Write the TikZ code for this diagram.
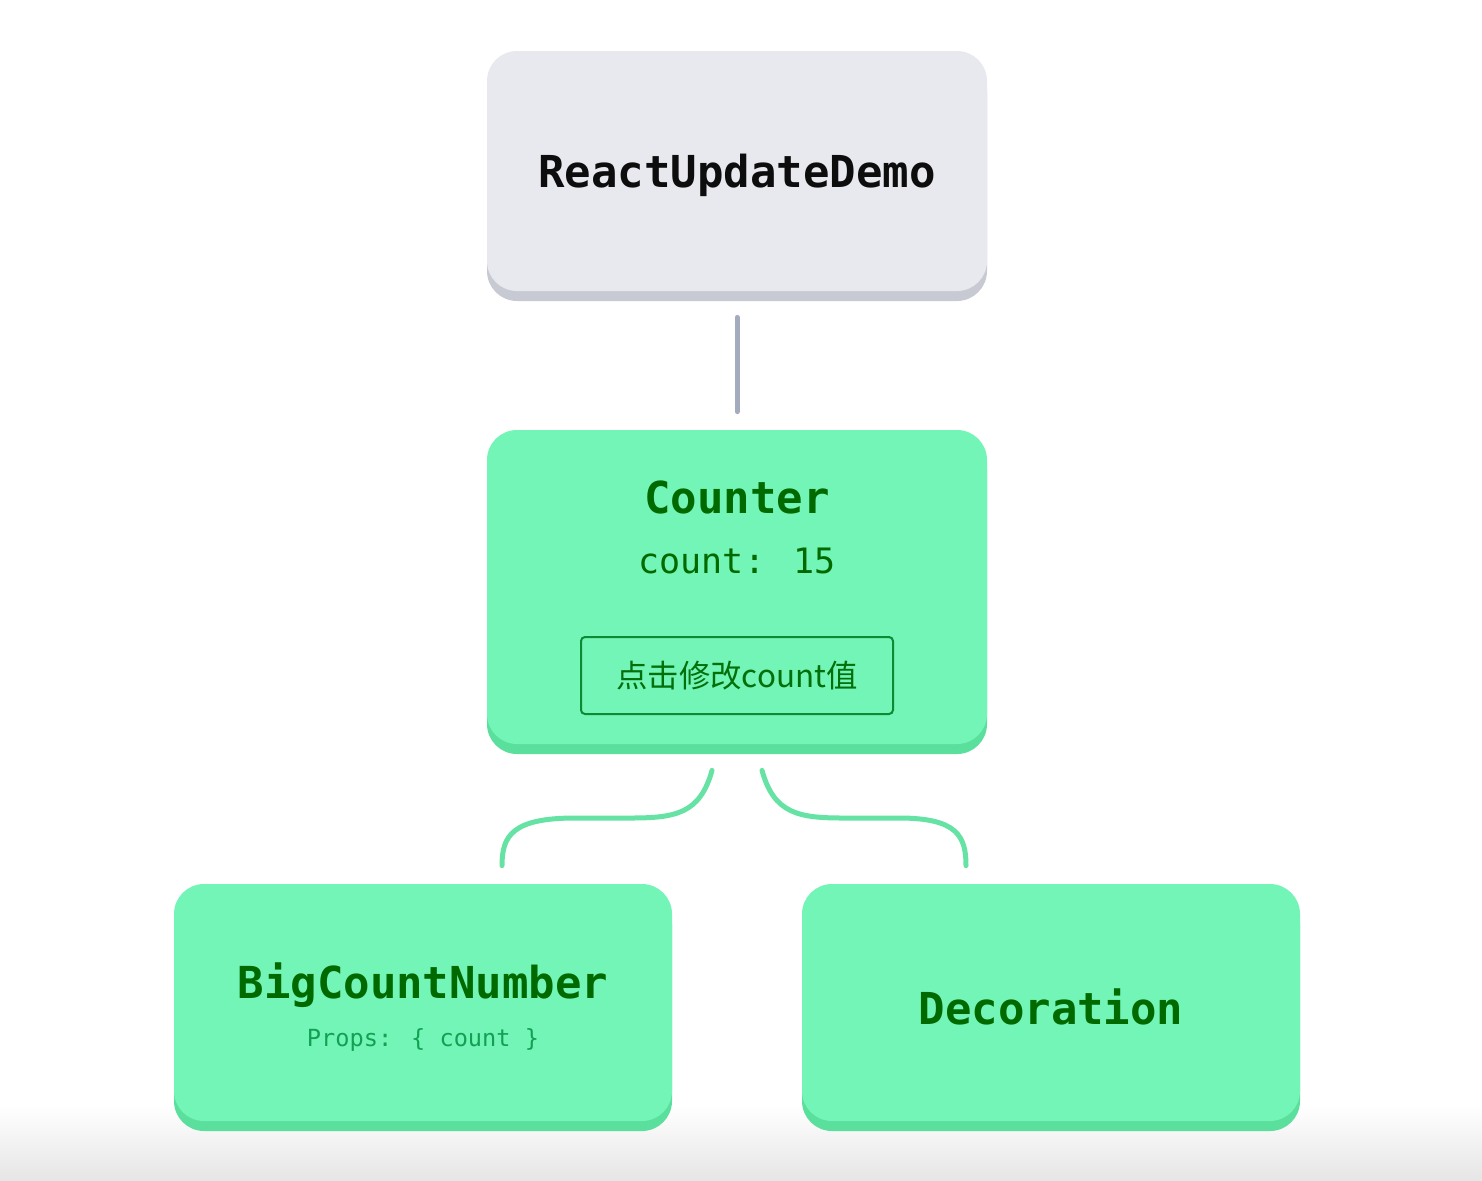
\documentclass[tikz,border=0pt]{standalone}
\usepackage{fontspec}
\newfontfamily\codefont{DejaVu Sans Mono}
\newfontfamily\cjk{Noto Sans CJK SC}
\usetikzlibrary{calc,shadows}
\definecolor{cardgrey}{HTML}{E8E9EE}
\definecolor{edgegrey}{HTML}{C8CAD3}
\definecolor{linegrey}{HTML}{A3ABBF}
\definecolor{cardgreen}{HTML}{72F5B6}
\definecolor{edgegreen}{HTML}{5ADF9C}
\definecolor{linegreen}{HTML}{66E2A4}
\definecolor{titlegreen}{HTML}{006A00}
\definecolor{propsgreen}{HTML}{12A053}
\definecolor{btngreen}{HTML}{0C8A34}
\tikzset{
  card/.style={rectangle, rounded corners=15pt, minimum width=250pt,
    minimum height=120pt, inner sep=0pt},
  greycard/.style={card, fill=cardgrey,
    drop shadow={shadow xshift=0pt, shadow yshift=-5pt, opacity=1, fill=edgegrey}},
  greencard/.style={card, fill=cardgreen,
    drop shadow={shadow xshift=0pt, shadow yshift=-5pt, opacity=1, fill=edgegreen}},
  title/.style={font=\codefont\bfseries\fontsize{22}{26}\selectfont, text=titlegreen},
  sub/.style={font=\codefont\fontsize{17.5}{21}\selectfont, text=titlegreen},
  props/.style={font=\codefont\fontsize{11.8}{14}\selectfont, text=propsgreen},
  button/.style={draw=btngreen, line width=1pt, rounded corners=2pt,
    minimum width=156pt, minimum height=38.5pt, inner sep=0pt,
    font=\cjk\fontsize{15.7}{19}\selectfont, text=titlegreen!80!btngreen},
  tree/.style={line width=2.5pt, line cap=round},
}
\begin{document}
\begin{tikzpicture}[x=0.5pt, y=-0.5pt]
  \useasboundingbox (0,0) rectangle (1482,1180);
  \shade[top color=white, bottom color=black!10] (0,1105) rectangle (1482,1180);
  % cards
  \node[greycard] (demo) at (737,171) {};
  \node[greencard, minimum height=157pt] (counter) at (737,587) {};
  \node[greencard, minimum width=249pt, minimum height=118.5pt] (big) at (423,1002.5) {};
  \node[greencard, minimum width=249pt, minimum height=118.5pt] (deco) at (1051,1002.5) {};
  % texts
  \node[title, text=black!95] (demotext) at (737,175) {ReactUpdateDemo};
  \node[title] (countertext) at (737,497) {Counter};
  \node[sub] (counttext) at (737,561) {count: 15};
  \node[button] (btn) at (737,675.5) {点击修改count值};
  \node[title] (bigtext) at (423,985) {BigCountNumber};
  \node[props] (propstext) at (423,1040) {Props: \{ count \}};
  \node[title] (decotext) at (1051,1007) {Decoration};
  % links
  \draw[tree, linegrey] ($(demo.south)+(0,26)$) -- ($(counter.north)+(0,-18)$);
  \draw[tree, linegreen] ($(counter.south)+(-25,26)$)
    .. controls (700,814) and (675,818) .. (630,818) -- (575,818)
    .. controls (512,818) and (502,836) .. ($(big.north)+(79,-18)$);
  \draw[tree, linegreen] ($(counter.south)+(25,26)$)
    .. controls (774,814) and (799,818) .. (844,818) -- (899,818)
    .. controls (957,818) and (966,836) .. ($(deco.north)+(-85,-18)$);
\end{tikzpicture}
\end{document}
